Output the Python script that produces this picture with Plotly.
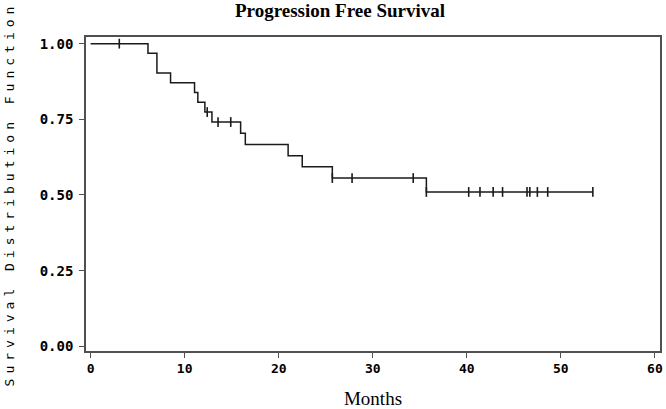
import plotly.graph_objects as go

# Kaplan-Meier step values
step_months = [0, 6.1, 7.05, 8.5, 11.05, 11.4, 12.15, 12.9, 15.95, 16.45, 21.0, 22.5, 25.7, 35.7, 53.4]
step_survival = [1.0, 0.968, 0.903, 0.871, 0.839, 0.806, 0.774, 0.741, 0.704, 0.667, 0.630, 0.593, 0.556, 0.510, 0.510]

# Censored observations
censor_months = [3.05, 12.4, 13.55, 14.9, 25.7, 27.8, 34.3, 35.7, 40.2, 41.4, 42.8, 43.8, 46.4, 46.7, 47.5, 48.6, 53.4]
censor_survival = [1.0, 0.774, 0.741, 0.741, 0.556, 0.556, 0.556, 0.510, 0.510, 0.510, 0.510, 0.510, 0.510, 0.510, 0.510, 0.510, 0.510]

x_ticks = [0, 10, 20, 30, 40, 50, 60]
y_ticks = [0.0, 0.25, 0.5, 0.75, 1.0]
y_tick_labels = ["0.00", "0.25", "0.50", "0.75", "1.00"]

title_text = "Progression Free Survival"
x_title = "Months"
y_title = "Survival Distribution Function"

fig = go.Figure()
fig.add_trace(go.Scatter(
    x=step_months, y=step_survival, mode="lines",
    line=dict(shape="hv", color="#1a1a1a", width=1.5),
    showlegend=False, hoverinfo="skip",
))
fig.add_trace(go.Scatter(
    x=censor_months, y=censor_survival, mode="markers",
    marker=dict(symbol="line-ns", size=7, line=dict(color="#1a1a1a", width=1.6)),
    showlegend=False, hoverinfo="skip",
))

mono = "DejaVu Sans Mono"
axis_color = "#505050"

fig.update_layout(
    width=666, height=409,
    margin=dict(l=86, r=6, t=37, b=58, autoexpand=False),
    paper_bgcolor="white", plot_bgcolor="white",
    title=dict(text=title_text, x=340 / 666, xanchor="center", xref="container",
               y=1 - 10 / 409, yanchor="middle", yref="container",
               font=dict(family="Liberation Serif", size=19, color="black", weight="bold")),
    xaxis=dict(
        range=[-0.49, 60.54], tickvals=x_ticks, ticks="outside", ticklen=5, tickwidth=1.2,
        tickcolor=axis_color, showline=True, linecolor=axis_color, linewidth=1.6, mirror=True,
        showgrid=False, zeroline=False, automargin=False,
        tickfont=dict(family=mono, size=13, color="black", weight="bold"),
        title=dict(text=x_title, font=dict(family="Liberation Serif", size=19, color="black"), standoff=19),
    ),
    yaxis=dict(
        range=[-0.0155, 1.022], tickvals=y_ticks, ticktext=y_tick_labels, ticks="outside", ticklen=5,
        tickwidth=1.2, tickcolor=axis_color, showline=True, linecolor=axis_color, linewidth=1.6,
        mirror=True, showgrid=False, zeroline=False, automargin=False, ticklabelstandoff=3,
        tickfont=dict(family=mono, size=14, color="black", weight="bold"),
        title=dict(text=y_title, font=dict(family=mono, size=13, color="black"), standoff=22),
    ),
)

post = """
document.body.style.margin = '0';
document.body.style.padding = '0';
var t = document.querySelector('.ytitle');
if (t) { t.style.letterSpacing = '5px'; }
"""
fig.write_html("out.html", post_script=post, config={"displayModeBar": False})
